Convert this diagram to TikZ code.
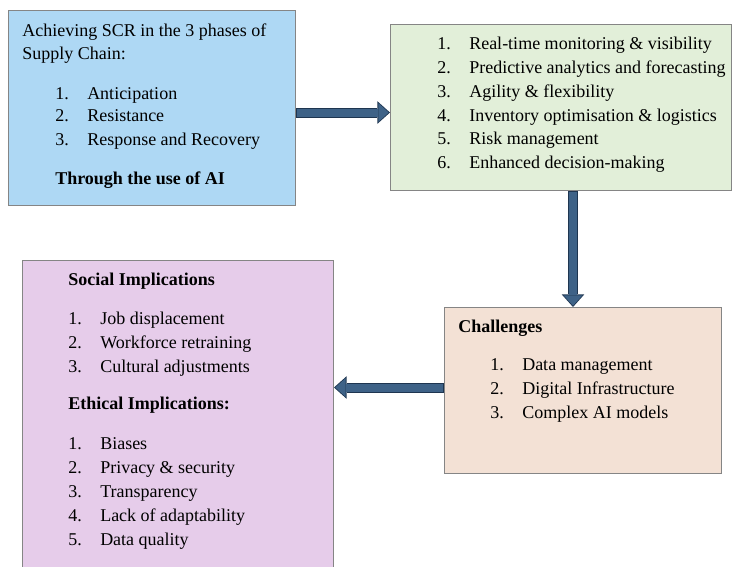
\documentclass[tikz,border=0pt]{standalone}
\usepackage{fontspec}
\setmainfont{Liberation Serif}
\usetikzlibrary{arrows.meta}
\definecolor{scrblue}{HTML}{AED8F4}
\definecolor{benegreen}{HTML}{E2EFD9}
\definecolor{chalpeach}{HTML}{F3E1D5}
\definecolor{implpurple}{HTML}{E6CCEA}
\definecolor{boxgrey}{HTML}{858585}
\definecolor{arrowfill}{HTML}{3E6287}
\definecolor{arrowline}{HTML}{1E3550}

\begin{document}
\begin{tikzpicture}[x=0.75pt,y=-0.75pt,font=\fontsize{13.5}{16}\selectfont,
  box/.style={draw=boxgrey, line width=0.75pt, anchor=north west, inner sep=0pt},
  item/.style={anchor=base west, inner sep=0pt},
  head/.style={item, font=\fontsize{13.5}{16}\selectfont\bfseries},
  flowarrow/.style={draw=arrowline, line width=7.5pt,
    -{Triangle[length=9.5pt,width=17pt,line width=0pt]},
    postaction={draw=arrowfill, line width=6pt, shorten >=1pt, shorten <=0.75pt,
      -{Triangle[length=7.8pt,width=14.2pt,line width=0pt]}}}]
  \useasboundingbox (0,0) rectangle (732,567);

  % boxes
  \node[box, fill=scrblue, minimum width=215.25pt, minimum height=146.25pt] (scr) at (8,10) {};
  \node[box, fill=benegreen, minimum width=255.75pt, minimum height=124.5pt] (bene) at (390,24) {};
  \node[box, fill=chalpeach, minimum width=207.75pt, minimum height=124.5pt] (chal) at (444,307) {};
  \node[box, fill=implpurple, minimum width=233.25pt, minimum height=240pt] (impl) at (22,260) {};

  % SCR phases
  \node[item] (scrhead1) at (22,37) {Achieving SCR in the 3 phases of};
  \node[item] (scrhead2) at (22,60) {Supply Chain:};
  \foreach \i/\t in {1/Anticipation,2/Resistance,3/Response and Recovery}
    \node[item] (scr-\i) at (55,{99+23*(\i-1)}) {\makebox[24pt][l]{\i.}\t};
  \node[head] (scrai) at (55,184) {Through the use of AI};

  % benefits
  \foreach \i/\t in {1/Real-time monitoring \& visibility,
                     2/Predictive analytics and forecasting,
                     3/Agility \& flexibility,
                     4/Inventory optimisation \& logistics,
                     5/Risk management,
                     6/Enhanced decision-making}
    \node[item] (bene-\i) at (437,{50+23.7*(\i-1)}) {\makebox[24pt][l]{\i.}\t};

  % challenges
  \node[head] (chalhead) at (458,332) {Challenges};
  \foreach \i/\t in {1/Data management,2/Digital Infrastructure,3/Complex AI models}
    \node[item] (chal-\i) at (490,{370+24*(\i-1)}) {\makebox[24pt][l]{\i.}\t};

  % implications
  \node[head] (sochead) at (68,285) {Social Implications};
  \foreach \i/\t in {1/Job displacement,2/Workforce retraining,3/Cultural adjustments}
    \node[item] (soc-\i) at (68,{324+24*(\i-1)}) {\makebox[24pt][l]{\i.}\t};
  \node[head] (ethhead) at (68,409) {Ethical Implications:};
  \foreach \i/\t in {1/Biases,2/Privacy \& security,3/Transparency,4/Lack of adaptability,5/Data quality}
    \node[item] (eth-\i) at (68,{449+24*(\i-1)}) {\makebox[24pt][l]{\i.}\t};

  % arrows
  \coordinate (r1) at ([yshift=-3.4pt]scr.east);
  \draw[flowarrow] (r1) -- (r1 -| bene.west);
  \coordinate (d1) at ([xshift=9pt]bene.south);
  \draw[flowarrow] (d1) -- (d1 |- chal.north);
  \coordinate (l1) at ([yshift=2.25pt]chal.west);
  \draw[flowarrow] (l1) -- (l1 -| impl.east);
\end{tikzpicture}
\end{document}
